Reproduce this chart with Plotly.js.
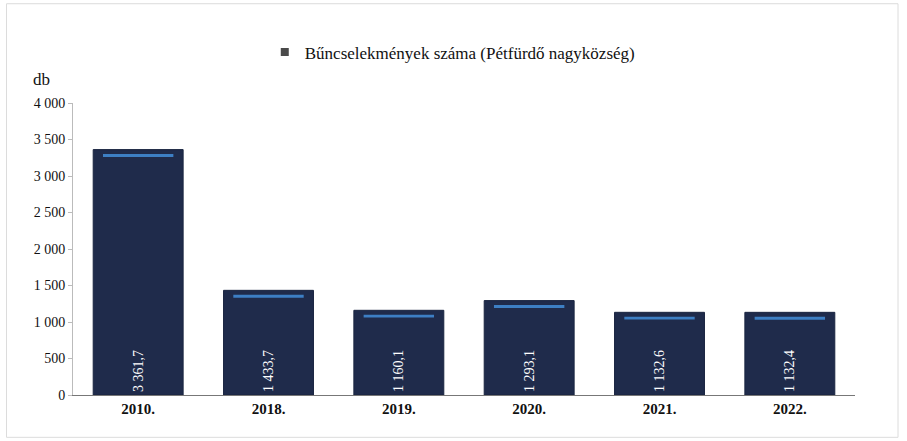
<!DOCTYPE html>
<html><head><meta charset="utf-8">
<script src="https://cdn.plot.ly/plotly-3.0.1.min.js"></script>
<style>html,body{margin:0;padding:0;background:#fff}#chart{width:907px;height:441px}</style>
</head><body><div id="chart"></div>
<script>
const categories = ["2010.", "2018.", "2019.", "2020.", "2021.", "2022."];
const values = [3361.7, 1433.7, 1160.1, 1293.1, 1132.6, 1132.4];
const labels = ["3 361,7", "1 433,7", "1 160,1", "1 293,1", "1 132,6", "1 132,4"];
const tickVals = [0, 500, 1000, 1500, 2000, 2500, 3000, 3500, 4000];
const tickText = ["0", "500", "1 000", "1 500", "2 000", "2 500", "3 000", "3 500", "4 000"];
const seriesName = "Bűncselekmények száma (Pétfürdő nagyközség)";

const serif = "Liberation Serif, Times New Roman, serif";

const mainBar = {
  type: "bar", x: categories, y: values, name: seriesName, showlegend: false,
  marker: {color: "#1f2b4b", line: {color: "#1a2540", width: 1}},
  text: labels, textposition: "inside", insidetextanchor: "start", textangle: -90,
  textfont: {family: serif, size: 14, color: "#ffffff"},
  cliponaxis: false, hoverinfo: "skip"
};
// thin lighter-blue highlight stripe near the top of each bar
const stripe = {
  type: "bar", x: categories, y: values.map(() => 40), base: values.map(v => v - 100),
  width: 0.54, marker: {color: "#3d7fc4"}, showlegend: false, hoverinfo: "skip"
};
// legend entry with a small square key
const legendKey = {
  type: "scatter", mode: "markers", x: [categories[0]], y: [null], name: seriesName,
  marker: {symbol: "square", size: 8, color: "#4a4a4a"}, showlegend: true, hoverinfo: "skip"
};

const layout = {
  width: 907, height: 441,
  margin: {l: 73, r: 52, t: 103, b: 46},
  paper_bgcolor: "#ffffff", plot_bgcolor: "#ffffff",
  barmode: "overlay", bargap: 0.31,
  showlegend: true,
  legend: {orientation: "h", x: 0.485, xanchor: "center", y: 0.84, yanchor: "bottom", yref: "container",
           font: {family: serif, size: 17, color: "#111"}, itemwidth: 10},
  xaxis: {type: "category", showline: true, linecolor: "#777", linewidth: 1, ticks: "",
          tickfont: {family: serif, size: 15, color: "#111", weight: "bold"}, showgrid: false, fixedrange: true},
  yaxis: {range: [0, 4000], tickvals: tickVals, ticktext: tickText, showline: true, linecolor: "#bbb", linewidth: 1,
          ticks: "outside", ticklen: 4, tickcolor: "#bbb", showgrid: false, zeroline: false,
          tickfont: {family: serif, size: 14, color: "#111"}},
  annotations: [{text: "db", xref: "paper", yref: "paper", x: -0.04, y: 1.04, xanchor: "center", yanchor: "bottom",
                 showarrow: false, font: {family: serif, size: 17, color: "#111"}}],
  shapes: [{type: "rect", xref: "paper", yref: "paper", x0: -0.085, x1: 1.055, y0: -0.145, y1: 1.34,
            line: {color: "#dcdcdc", width: 1}}]
};

Plotly.newPlot("chart", [mainBar, stripe, legendKey], layout, {staticPlot: true, displayModeBar: false});
</script></body></html>
